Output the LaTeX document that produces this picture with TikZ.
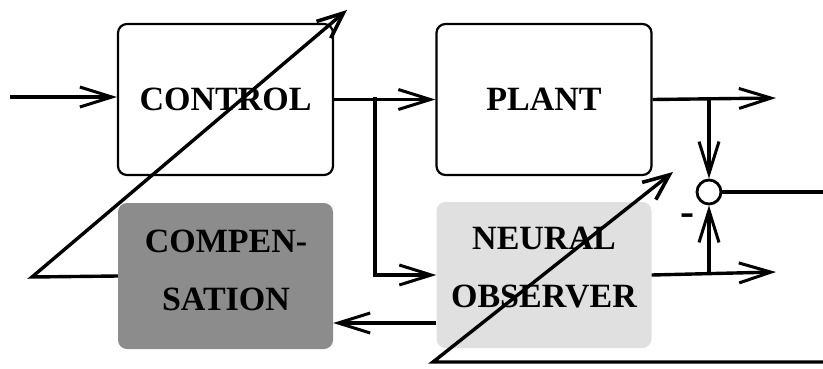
\documentclass[tikz,border=0pt]{standalone}
\usepackage{fontspec}
\setmainfont{Liberation Serif}
\usetikzlibrary{arrows.meta}

\begin{document}
\begin{tikzpicture}[
		x=1pt, y=-1pt,
		every node/.style={anchor=center, font=\bfseries\fontsize{34}{58}\selectfont, inner sep=0pt, align=center},
		block/.style={draw, line width=2.2pt, rounded corners=9pt, minimum width=215pt, minimum height=151pt},
		shaded/.style={rounded corners=9pt, minimum width=215pt, minimum height=146pt},
		to/.style={line width=3.4pt, -{Straight Barb[length=32pt,width=20pt,line width=3pt]}},
		adjust/.style={line width=3.4pt, -{Straight Barb[length=26pt,width=22pt,line width=3.6pt]}},
		wire/.style={line width=3.4pt}
		]
		
		\useasboundingbox (0,0) rectangle (823,368);
		
		% blocks
		\node[block] (control) at (225.5,99.5) {CONTROL};
		\node[block] (plant) at (544,99.5) {PLANT};
		\node[shaded, fill=black!45] (comp) at (225.5,276) {};
		\node[shaded, fill=black!12] (neural) at (544,275) {};
		\node (compText) at (226,270) {COMPEN-\\SATION};
		\node (neuralText) at (544,268) {NEURAL\\OBSERVER};
		\node[circle, draw, line width=2.8pt, minimum size=24pt] (sum) at (709,192) {};
		\node[font=\bfseries\fontsize{42}{42}\selectfont] (minus) at (687,220) {-};
		
		% helper points
		\coordinate (in) at (10,97);
		\coordinate (split) at (375,97);
		\coordinate (tapP) at (709,98);
		\coordinate (tapN) at (709,272);
		\coordinate (outP) at (776,98);
		\coordinate (outN) at (776,272);
		\coordinate (err) at (823,192);
		\coordinate (adjC1) at (32,277);
		\coordinate (adjC2) at (347,10);
		\coordinate (adjN0) at (823,362);
		\coordinate (adjN1) at (433,362);
		\coordinate (adjN2) at (673,172);
		
		% signal flow
		\draw[to] (in) -- (in -| control.west);
		\draw[to] (control.east) -- (plant.west);
		\draw[to] (split) |- (neural.west);
		\draw[to] (plant.east) -- (outP);
		\draw[to] (neural.east) -- (outN);
		\draw[to] ([yshift=-48pt]neural.west) -- ([yshift=-47pt]comp.east);
		\draw[to] (tapP) -- (sum.north);
		\draw[to] (tapN) -- (sum.south);
		\draw[wire] (sum.east) -- (err);
		
		% adaptation
		\draw[adjust] (comp.west) -- (adjC1) -- (adjC2);
		\draw[adjust] (adjN0) -- (adjN1) -- (adjN2);
		
\end{tikzpicture}
\end{document}
